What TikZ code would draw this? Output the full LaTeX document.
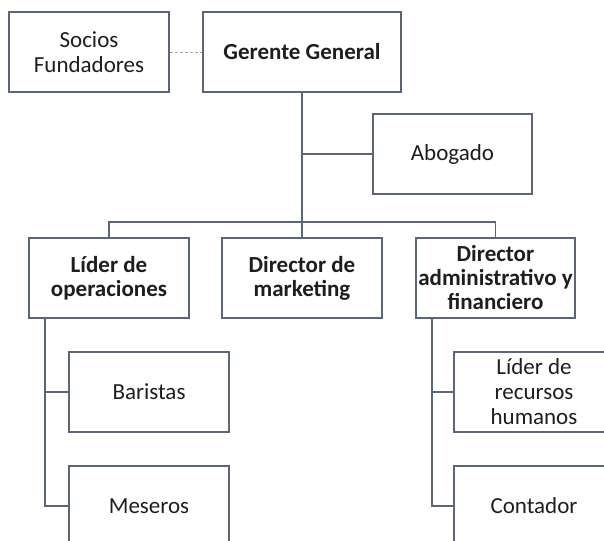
\documentclass[tikz,border=0pt]{standalone}
\usepackage{fontspec}
\setmainfont{Carlito}
\usetikzlibrary{positioning}

\definecolor{linegray}{RGB}{92,102,120}
\definecolor{textdark}{RGB}{30,30,30}

\begin{document}
\begin{tikzpicture}[x=1pt, y=-1pt,
    box/.style={draw=linegray, line width=1.4pt, fill=white, rectangle,
        minimum width=160pt, minimum height=80pt, align=center,
        text=textdark, inner sep=1pt, font=\fontsize{23}{25}\selectfont},
    headbox/.style={box, font=\fontsize{23}{24}\selectfont\bfseries},
    link/.style={draw=linegray, line width=1.4pt}]
            \clip (0,0) rectangle (604,540);
            \useasboundingbox (0,0) rectangle (604,540);

            % Top
            \node[box] (socios) at (89,52) {Socios\\Fundadores};
            \node[headbox, minimum width=198pt] (gerente) at (302,52) {Gerente General};
            \node[box, minimum width=159pt] (abogado) at (452.5,154) {Abogado};

            % Directors
            \node[headbox] (lider) at (109,278) {Líder de\\operaciones};
            \node[headbox] (marketing) at (302,278) {Director de\\marketing};
            \node[headbox, minimum width=159pt] (admin) at (495.5,278) {Director\\administrativo y\\financiero};

            % Staff
            \node[box] (baristas) at (149,392) {Baristas};
            \node[box] (meseros) at (149,506) {Meseros};
            \node[box] (rrhh) at (534,392) {Líder de\\recursos\\humanos};
            \node[box] (contador) at (534,506) {Contador};

            % Lines
            \coordinate (bus) at (302,222);
            \coordinate (opsline) at (45,318);
            \coordinate (adminline) at (432,319);
            \draw[draw=gray!70, line width=0.8pt, dash pattern=on 3pt off 2pt] (socios) -- (gerente);
            \draw[link] (gerente.south) |- (abogado.west);
            \draw[link] (gerente.south) -- (marketing.north);
            \draw[link] (lider.north) |- (bus) -| (admin.north);
            \draw[link] (opsline) |- (baristas.west);
            \draw[link] (opsline) |- (meseros.west);
            \draw[link] (adminline) |- (rrhh.west);
            \draw[link] (adminline) |- (contador.west);

        \end{tikzpicture}
\end{document}
